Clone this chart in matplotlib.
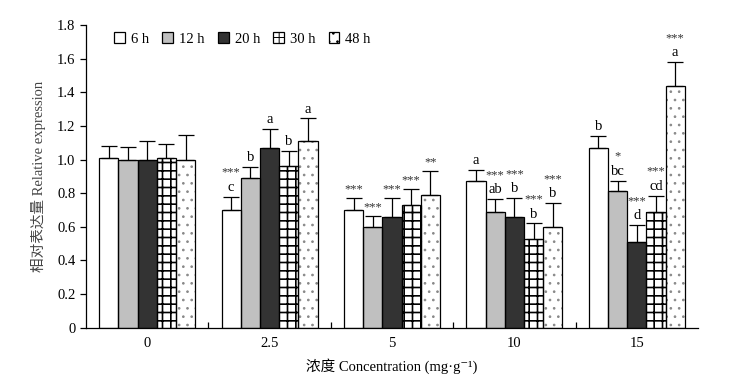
import numpy as np
import matplotlib
matplotlib.use("Agg")
import matplotlib.pyplot as plt

plt.rcParams['font.family'] = ['Liberation Serif', 'Noto Sans CJK SC', 'DejaVu Serif']
plt.rcParams['hatch.linewidth'] = 1.0

conc = ['0', '2.5', '5', '10', '15']
times = ['6 h', '12 h', '20 h', '30 h', '48 h']

h6 = [1.01, 0.70, 0.70, 0.87, 1.07]
h12 = [1.00, 0.89, 0.60, 0.69, 0.81]
h20 = [1.00, 1.07, 0.66, 0.66, 0.51]
h30 = [1.01, 0.96, 0.73, 0.53, 0.69]
h48 = [1.00, 1.11, 0.79, 0.60, 1.44]

e6 = [0.07, 0.08, 0.07, 0.07, 0.07]
e12 = [0.075, 0.065, 0.065, 0.075, 0.065]
e20 = [0.11, 0.11, 0.11, 0.11, 0.10]
e30 = [0.08, 0.09, 0.095, 0.09, 0.095]
e48 = [0.145, 0.135, 0.14, 0.14, 0.14]

# significance letters and asterisks per time point
let6 = ['', 'c', '', 'a', 'b']
let12 = ['', 'b', '', 'ab', 'bc']
let20 = ['', 'a', '', 'b', 'd']
let30 = ['', 'b', '', 'b', 'cd']
let48 = ['', 'a', '', 'b', 'a']
star6 = ['', '***', '***', '', '']
star12 = ['', '', '***', '***', '*']
star20 = ['', '', '***', '***', '***']
star30 = ['', '', '***', '***', '***']
star48 = ['', '', '**', '***', '***']

means = [h6, h12, h20, h30, h48]
errs = [e6, e12, e20, e30, e48]
letters = [let6, let12, let20, let30, let48]
stars = [star6, star12, star20, star30, star48]
colors = ['white', '#c0c0c0', '#333333', 'white', 'white']
hatches = [None, None, None, '++', '..']
hatch_col = ['black', 'black', 'black', 'black', '#888888']
hatch_lw = [1.0, 1.0, 1.0, 1.2, 0.7]

fig = plt.figure(figsize=(7.37, 3.85), dpi=100)
ax = fig.add_axes([0.1167, 0.149, 0.8303, 0.786])

x = np.arange(len(conc))
w = 0.157
handles = []
for i in range(5):
    pos = x + (i - 2) * w
    plt.rcParams['hatch.linewidth'] = hatch_lw[i]
    # fill + hatch layer, then outline layer on top
    ax.bar(pos, means[i], w, color=colors[i], edgecolor=hatch_col[i], linewidth=0,
           hatch=hatches[i], zorder=2)
    ax.bar(pos, means[i], w, fill=False, edgecolor='black', linewidth=0.9, zorder=2.5)
    handles.append(plt.Rectangle((0, 0), 1, 1, facecolor=colors[i], edgecolor='black',
                                 linewidth=0.9, hatch=hatches[i], label=times[i]))
    ax.errorbar(pos, means[i], yerr=[np.zeros(5), errs[i]], fmt='none',
                ecolor='black', elinewidth=0.9, capsize=5.5, capthick=0.9, zorder=3)
    for j in range(5):
        top = means[i][j] + errs[i][j]
        off = 2
        if letters[i][j]:
            ax.annotate(letters[i][j], (pos[j], top), xytext=(0, off),
                        textcoords='offset points', ha='center', va='bottom',
                        fontsize=10.5)
            off += 11
        if stars[i][j]:
            ax.annotate(stars[i][j], (pos[j], top), xytext=(0, off),
                        textcoords='offset points', ha='center', va='bottom',
                        fontsize=9, color='#333333')

ax.set_xlim(-0.5, 4.5)
ax.set_ylim(0, 1.8)
ax.set_yticks(np.arange(0, 1.81, 0.2))
ax.set_yticklabels(['0'] + ['%.1f' % v for v in np.arange(0.2, 1.81, 0.2)])
ax.set_xticks(x)
ax.set_xticklabels(conc)
ax.set_xticks(np.arange(0.5, 4.5, 1), minor=True)
ax.tick_params(axis='x', which='major', length=0, pad=7, labelsize=10.5)
ax.tick_params(axis='x', which='minor', direction='in', length=4, width=0.9)
ax.tick_params(axis='y', direction='out', length=4, width=0.9, labelsize=10.5)
ax.spines['top'].set_visible(False)
ax.spines['right'].set_visible(False)
ax.spines['left'].set_linewidth(0.9)
ax.spines['bottom'].set_linewidth(0.9)

ax.set_ylabel('相对表达量 Relative expression', fontsize=10.5, color='#444444', labelpad=8)
ax.set_xlabel('浓度 Concentration (mg·g⁻¹)', fontsize=10.5, labelpad=6)

ax.legend(handles=handles, loc='upper left', ncol=5, frameon=False, fontsize=10.5,
          bbox_to_anchor=(0.025, 1.02), handlelength=0.75, handleheight=0.75,
          handletextpad=0.4, columnspacing=0.9)

fig.savefig('out.png', dpi=100)
